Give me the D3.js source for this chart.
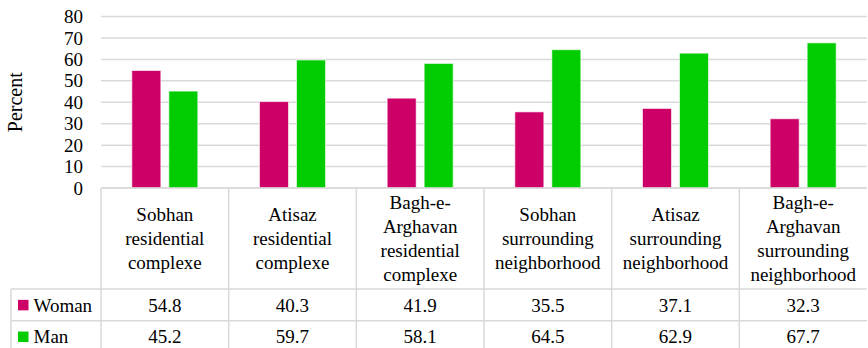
<!DOCTYPE html>
<html>
<head>
<meta charset="utf-8">
<script src="https://cdn.jsdelivr.net/npm/d3@7"></script>
</head>
<body style="margin:0">
<div id="chart"></div>
<script>
// Datos del gráfico
const categories = [
  "Sobhan residential complexe",
  "Atisaz residential complexe",
  "Bagh-e-Arghavan residential complexe",
  "Sobhan surrounding neighborhood",
  "Atisaz surrounding neighborhood",
  "Bagh-e-Arghavan surrounding neighborhood"
];
// etiquetas partidas en líneas como en el original
const categoryLines = [
  ["Sobhan", "residential", "complexe"],
  ["Atisaz", "residential", "complexe"],
  ["Bagh-e-", "Arghavan", "residential", "complexe"],
  ["Sobhan", "surrounding", "neighborhood"],
  ["Atisaz", "surrounding", "neighborhood"],
  ["Bagh-e-", "Arghavan", "surrounding", "neighborhood"]
];
const seriesNames = ["Woman", "Man"];
const womanValues = [54.8, 40.3, 41.9, 35.5, 37.1, 32.3];
const manValues = [45.2, 59.7, 58.1, 64.5, 62.9, 67.7];
const yTicks = [0, 10, 20, 30, 40, 50, 60, 70, 80];
const colors = ["#CC0066", "#00CC00"];

const width = 868;
const height = 348;
const marginLeft = 101;
const marginRight = 1;
const marginTop = 16.5;
const plotBottom = 188;
const headerBottom = 289;
const rowHeight = 31.7;
const legendLeft = 11;
const gridColor = "#d9d9d9";
const fontName = "Liberation Serif";

const seriesValues = [womanValues, manValues];
const data = categories.map((c, i) => ({
  category: c,
  lines: categoryLines[i],
  values: seriesNames.map((s, j) => ({ name: s, value: seriesValues[j][i] }))
}));

function serif(sel, size) {
  sel.attr("font-family", fontName)
     .attr("font-size", size)
     .attr("fill", "#000");
}

// Escalas
const x0 = d3.scaleBand()
  .domain(categories)
  .range([marginLeft, width - marginRight])
  .paddingInner(0)
  .paddingOuter(0);

const x1 = d3.scaleBand()
  .domain(seriesNames)
  .range([0, x0.bandwidth()])
  .paddingInner(0.216)
  .paddingOuter(0.834);

const y = d3.scaleLinear()
  .domain([0, 80])
  .range([plotBottom, marginTop]);

const color = d3.scaleOrdinal().domain(seriesNames).range(colors);
const rowY = (i) => headerBottom + i * rowHeight + rowHeight / 2;
const midX = (c) => x0(c) + x0.bandwidth() / 2;

const svg = d3.select("#chart")
  .append("svg")
    .attr("width", width)
    .attr("height", height)
    .attr("font-family", fontName)
    .style("display", "block");

// Cuadrícula
svg.selectAll("line.grid")
  .data(yTicks)
  .join("line")
    .attr("class", "grid")
    .attr("stroke", gridColor)
    .attr("stroke-width", 1.5)
    .attr("x1", marginLeft)
    .attr("x2", width - marginRight)
    .attr("y1", d => y(d))
    .attr("y2", d => y(d));

// Etiquetas del eje Y
svg.selectAll("text.ytick")
  .data(yTicks)
  .join("text")
    .attr("class", "ytick")
    .attr("transform", d => `translate(${marginLeft - 18},${y(d)}) rotate(0.01)`)
    .attr("dy", "0.35em")
    .attr("text-anchor", "end")
    .call(serif, 19)
    .text(d => d);

svg.append("text")
    .attr("transform", `translate(22,${(marginTop + plotBottom) / 2}) rotate(-90)`)
    .attr("text-anchor", "middle")
    .call(serif, 20)
    .text("Percent");

// Barras
const bars = data.flatMap(d => d.values.map(v => ({ ...v, category: d.category })));
svg.selectAll("rect.bar")
  .data(bars)
  .join("rect")
    .attr("class", "bar")
    .attr("x", d => x0(d.category) + x1(d.name))
    .attr("y", d => y(d.value))
    .attr("width", x1.bandwidth())
    .attr("height", d => y(0) - y(d.value))
    .attr("fill", d => color(d.name))
    .attr("stroke", "#fff")
    .attr("stroke-opacity", 0.6)
    .attr("stroke-width", 1);

// Tabla de datos
svg.selectAll("line.v")
  .data(categories)
  .join("line")
    .attr("class", "v")
    .attr("stroke", gridColor)
    .attr("stroke-width", 1.5)
    .attr("x1", d => x0(d))
    .attr("x2", d => x0(d))
    .attr("y1", plotBottom)
    .attr("y2", height);

svg.append("line")
    .attr("stroke", gridColor)
    .attr("stroke-width", 1.5)
    .attr("x1", marginLeft).attr("x2", width - marginRight)
    .attr("y1", plotBottom).attr("y2", plotBottom);

svg.selectAll("line.h")
  .data(seriesNames)
  .join("line")
    .attr("class", "h")
    .attr("stroke", gridColor)
    .attr("stroke-width", 1.5)
    .attr("x1", legendLeft)
    .attr("x2", width - marginRight)
    .attr("y1", (d, i) => headerBottom + i * rowHeight)
    .attr("y2", (d, i) => headerBottom + i * rowHeight);

svg.append("line")
    .attr("stroke", gridColor)
    .attr("stroke-width", 1.5)
    .attr("x1", legendLeft).attr("x2", legendLeft)
    .attr("y1", headerBottom).attr("y2", height);

// Encabezados de categoría
const lineHeight = 23.8;
svg.selectAll("text.header")
  .data(data)
  .join("text")
    .attr("class", "header")
    .attr("text-anchor", "middle")
    .call(serif, 19)
    .attr("transform", d => `translate(${midX(d.category)},${(plotBottom + headerBottom) / 2 - (d.lines.length - 1) * lineHeight / 2}) rotate(0.01)`)
    .each(function(d) {
      d3.select(this).selectAll("tspan")
        .data(d.lines)
        .join("tspan")
          .attr("x", 0)
          .attr("dy", (l, i) => i === 0 ? "0.35em" : lineHeight)
          .text(l => l);
    });

// Leyenda de la tabla
svg.selectAll("rect.key")
  .data(seriesNames)
  .join("rect")
    .attr("class", "key")
    .attr("x", 18)
    .attr("y", (d, i) => rowY(i) - 5)
    .attr("width", 10.5)
    .attr("height", 10.5)
    .attr("fill", d => color(d));

svg.selectAll("text.key")
  .data(seriesNames)
  .join("text")
    .attr("class", "key")
    .attr("transform", (d, i) => `translate(33.5,${rowY(i)}) rotate(0.01)`)
    .attr("dy", "0.35em")
    .call(serif, 19)
    .text(d => d);

const cells = seriesNames.flatMap((s, i) =>
  seriesValues[i].map((v, k) => ({ v, c: categories[k], row: i })));
svg.selectAll("text.val")
  .data(cells)
  .join("text")
    .attr("class", "val")
    .attr("transform", d => `translate(${midX(d.c)},${rowY(d.row)}) rotate(0.01)`)
    .attr("dy", "0.35em")
    .attr("text-anchor", "middle")
    .call(serif, 19)
    .text(d => d.v.toFixed(1));
</script>
</body>
</html>
